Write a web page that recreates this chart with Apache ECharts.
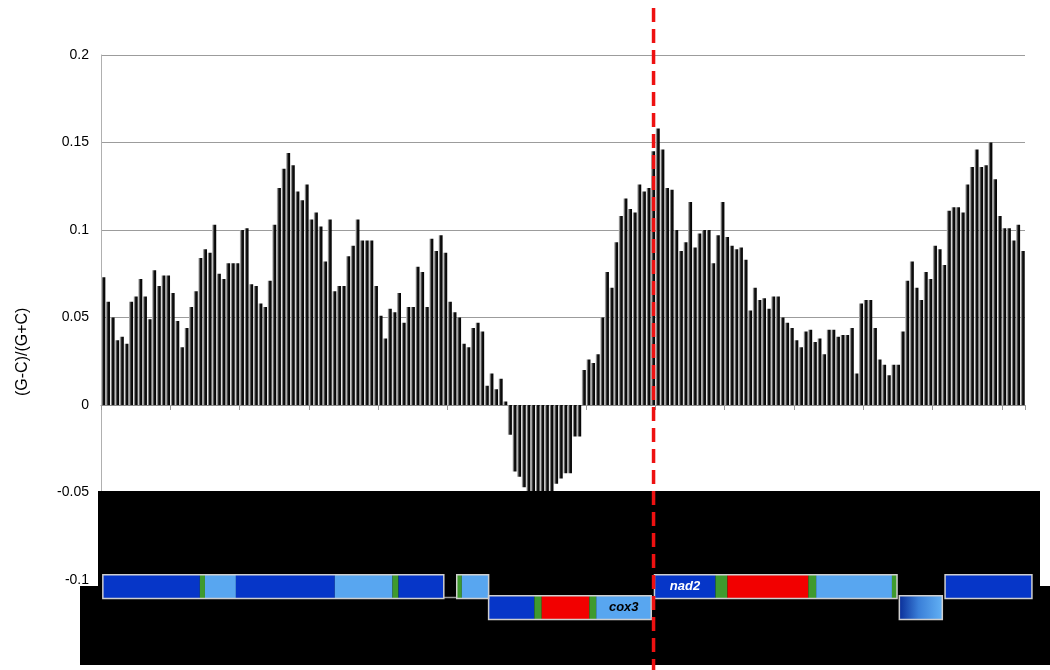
<!DOCTYPE html>
<html>
<head>
<meta charset="utf-8">
<script src="https://cdn.jsdelivr.net/npm/echarts@6/dist/echarts.min.js"></script>
<style>html,body{margin:0;padding:0;background:#fff}#c{width:1050px;height:670px}</style>
</head>
<body>
<div id="c"></div>
<script>
// GC skew values per window (200 windows)
const skew = [
0.073,0.059,0.050,0.037,0.039,0.035,0.059,0.062,0.072,0.062,
0.049,0.077,0.068,0.074,0.074,0.064,0.048,0.033,0.044,0.056,
0.065,0.084,0.089,0.087,0.103,0.075,0.072,0.081,0.081,0.081,
0.100,0.101,0.069,0.068,0.058,0.056,0.071,0.103,0.124,0.135,
0.144,0.137,0.122,0.117,0.126,0.106,0.110,0.102,0.082,0.106,
0.065,0.068,0.068,0.085,0.091,0.106,0.094,0.094,0.094,0.068,
0.051,0.038,0.055,0.053,0.064,0.047,0.056,0.056,0.079,0.076,
0.056,0.095,0.088,0.097,0.087,0.059,0.053,0.050,0.035,0.033,
0.044,0.047,0.042,0.011,0.018,0.009,0.015,0.002,-0.017,-0.038,
-0.041,-0.047,-0.053,-0.057,-0.060,-0.058,-0.055,-0.050,-0.045,-0.042,
-0.039,-0.039,-0.018,-0.018,0.020,0.026,0.024,0.029,0.050,0.076,
0.067,0.093,0.108,0.118,0.112,0.110,0.126,0.122,0.124,0.145,
0.158,0.146,0.124,0.123,0.100,0.088,0.093,0.116,0.090,0.098,
0.100,0.100,0.081,0.097,0.116,0.096,0.091,0.089,0.090,0.083,
0.054,0.067,0.060,0.061,0.055,0.062,0.062,0.050,0.047,0.044,
0.037,0.033,0.042,0.043,0.036,0.038,0.029,0.043,0.043,0.039,
0.040,0.040,0.044,0.018,0.058,0.060,0.060,0.044,0.026,0.023,
0.017,0.023,0.023,0.042,0.071,0.082,0.067,0.060,0.076,0.072,
0.091,0.089,0.080,0.111,0.113,0.113,0.110,0.126,0.136,0.146,
0.136,0.137,0.150,0.129,0.108,0.101,0.101,0.094,0.103,0.088
];
const windows = skew.map((_, i) => String(i + 1));
const yTicks = [-0.1, -0.05, 0, 0.05, 0.1, 0.15, 0.2];

// gene map (positions in window units along the same axis)
const boxStart  = [0.4, 77.0, 83.9, 119.8, 172.8, 182.7];
const boxEnd    = [74.2, 83.9, 119.1, 172.3, 182.1, 201.5];
const boxStrand = ['up', 'up', 'down', 'up', 'down', 'up'];

const segStart  = [0.4, 21.4, 22.5, 29.2, 50.6, 63.1, 64.4, 77.0, 78.1,
                   83.9, 93.8, 95.4, 105.7, 107.2,
                   119.8, 133.0, 135.6, 153.1, 154.8, 171.2,
                   172.8, 182.7];
const segEnd    = [21.4, 22.5, 29.2, 50.6, 63.1, 64.4, 74.2, 78.1, 83.9,
                   93.8, 95.4, 105.7, 107.2, 119.1,
                   133.0, 135.6, 153.1, 154.8, 171.2, 172.3,
                   182.1, 201.5];
const segStrand = ['up','up','up','up','up','up','up','up','up',
                   'down','down','down','down','down',
                   'up','up','up','up','up','up',
                   'down','up'];
const segKind   = ['dark','green','light','dark','light','green','dark','green','light',
                   'dark','green','red','green','light',
                   'dark','green','red','green','light','green',
                   'fade','dark'];
const segLabel  = ['','','','','','','','','',
                   '','','','','cox3',
                   'nad2','','','','','',
                   '',''];
const oriPos = [119.6];

const kindColor = {
  dark: '#0636c8', light: '#58a6f0', red: '#f20000', green: '#3f9a2e',
  fade: {type:'linear', x:0, y:0, x2:1, y2:0, colorStops:[{offset:0,color:'#0a2f9a'},{offset:0.45,color:'#3a7fd8'},{offset:1,color:'#62b0f4'}]}
};
const track = { up: [-0.097, -0.1105], down: [-0.109, -0.1225] };

const chart = echarts.init(document.getElementById('c'), null, {renderer: 'canvas'});
const FONT = '"Liberation Sans", Arial, sans-serif';

chart.setOption({
  animation: false,
  backgroundColor: '#fff',
  grid: { left: 101, right: 25, top: 55, bottom: 90, containLabel: false },
  xAxis: [
    {
      type: 'category', data: windows, boundaryGap: true,
      axisLine: { show: true, onZero: true, lineStyle: { color: '#8a8a8a', width: 1 } },
      axisTick: { show: true, interval: 14, length: 5, lineStyle: { color: '#9a9a9a' } },
      axisLabel: { show: false },
      splitLine: { show: false }
    },
    { type: 'value', min: 0, max: 200, show: false }
  ],
  yAxis: {
    type: 'value', min: -0.1, max: 0.2, interval: 0.05,
    axisLine: { show: true, lineStyle: { color: '#b0b0b0' } },
    axisTick: { show: false },
    axisLabel: { color: '#000', fontFamily: FONT, fontSize: 14, margin: 12,
      formatter: v => { const t = yTicks.find(x => Math.abs(x - v) < 1e-9); return t === undefined ? '' : String(t); } },
    splitLine: { show: true, lineStyle: { color: '#9c9c9c', width: 1 } }
  },
  graphic: [
    { type: 'text', rotation: Math.PI / 2, z: 10,
      style: { text: '(G-C)/(G+C)', fontFamily: FONT, fontSize: 16, fill: '#000' },
      x: 15, y: 396 },
    { type: 'polygon', z: 50,
      shape: { points: [[98,491],[1040,491],[1040,586],[1050,586],[1050,665],[80,665],[80,586],[98,586]] },
      style: { fill: '#000' } },
    { type: 'line', z: 51,
      shape: { x1: 444, y1: 597.5, x2: 457, y2: 597.5 },
      style: { stroke: '#9a9a9a', lineWidth: 1.5 } }
  ],
  series: [
    {
      type: 'bar', xAxisIndex: 0, yAxisIndex: 0, data: skew,
      barCategoryGap: '12%', z: 2,
      itemStyle: {
        color: { type:'linear', x:0, y:0, x2:1, y2:0,
          colorStops: [{offset:0,color:'#d0d0d0'},{offset:0.28,color:'#707070'},{offset:0.48,color:'#141414'},{offset:1,color:'#000'}] }
      }
    },
    {
      type: 'custom', xAxisIndex: 1, yAxisIndex: 0, z: 100, zlevel: 1,
      encode: { x: [0, 1], y: 2 },
      data: segStart.map((s, i) => [s, segEnd[i], -0.1]),
      renderItem: (params, api) => {
        const i = params.dataIndex;
        const t = track[segStrand[i]];
        const p0 = api.coord([segStart[i], t[0]]);
        const p1 = api.coord([segEnd[i], t[1]]);
        const children = [{
          type: 'rect',
          shape: { x: p0[0], y: p0[1], width: p1[0] - p0[0], height: p1[1] - p0[1] },
          style: { fill: kindColor[segKind[i]] }
        }];
        if (segLabel[i]) {
          children.push({
            type: 'text',
            style: {
              text: segLabel[i], x: (p0[0] + p1[0]) / 2, y: (p0[1] + p1[1]) / 2,
              align: 'center', verticalAlign: 'middle',
              fontFamily: FONT, fontSize: 13, fontStyle: 'italic', fontWeight: 'bold',
              fill: segLabel[i] === 'nad2' ? '#fff' : '#000'
            }
          });
        }
        return { type: 'group', children };
      }
    },
    {
      type: 'custom', xAxisIndex: 1, yAxisIndex: 0, z: 110, zlevel: 1,
      encode: { x: [0, 1], y: 2 },
      data: boxStart.map((s, i) => [s, boxEnd[i], -0.1]),
      renderItem: (params, api) => {
        const i = params.dataIndex;
        const t = track[boxStrand[i]];
        const p0 = api.coord([boxStart[i], t[0]]);
        const p1 = api.coord([boxEnd[i], t[1]]);
        return {
          type: 'rect',
          shape: { x: p0[0], y: p0[1], width: p1[0] - p0[0], height: p1[1] - p0[1] },
          style: { fill: null, stroke: '#cfcfcf', lineWidth: 1.5 }
        };
      }
    },
    {
      type: 'custom', xAxisIndex: 1, yAxisIndex: 0, z: 120, zlevel: 1,
      encode: { x: 0, y: 1 },
      data: oriPos.map(p => [p, 0]),
      renderItem: (params, api) => {
        const x = api.coord([oriPos[params.dataIndex], 0])[0];
        return {
          type: 'line',
          shape: { x1: x, y1: 8, x2: x, y2: api.getHeight() },
          style: { stroke: '#ee1111', lineWidth: 3.5, lineDash: [14, 7] }
        };
      }
    }
  ]
});
</script>
</body>
</html>
